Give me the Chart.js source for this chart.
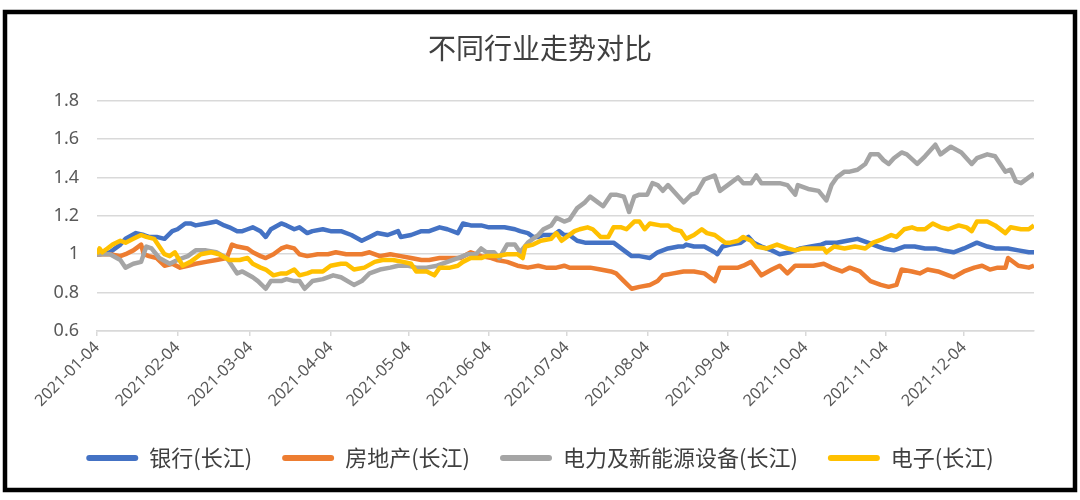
<!DOCTYPE html>
<html lang="zh">
<head>
    <meta charset="UTF-8">
    <title>不同行业走势对比</title>
    <style>
        body {
            margin: 0;
            background-color: #ffffff;
            font-family: 'Noto Sans CJK SC', 'Noto Sans', sans-serif;
        }
        #box {
            width: 1080px;
            height: 500px;
        }
    </style>
    <script src="https://cdn.jsdelivr.net/npm/chart.js"></script>
</head>
<body>
    <div id="box"><canvas id="graph" width="1080" height="500"></canvas></div>
    <script>
        // x = days since 2021-01-04
        const tickDays = [0, 31, 59, 90, 120, 151, 181, 212, 243, 273, 304, 334];
        const tickLabels = ["2021-01-04","2021-02-04","2021-03-04","2021-04-04","2021-05-04","2021-06-04",
                            "2021-07-04","2021-08-04","2021-09-04","2021-10-04","2021-11-04","2021-12-04"];

        const seriesNames = ["银行(长江)", "房地产(长江)", "电力及新能源设备(长江)", "电子(长江)"];

        const bankDays = [0,1,5,9,11,15,18,20,23,26,29,31,34,36,38,42,46,49,51,54,56,58,60,63,65,67,71,73,76,78,
            81,83,87,90,94,98,102,105,108,112,116,117,121,125,128,132,135,139,141,144,148,151,154,157,161,163,166,168,170,172,
            176,178,180,182,185,188,191,195,199,203,206,209,213,216,220,224,226,227,230,234,238,239,241,244,248,251,253,256,260,263,
            267,271,275,279,281,285,289,293,297,301,303,307,311,315,319,323,326,330,334,339,343,346,351,355,359,361];
        const bankValues = [1.00,1.00,1.01,1.05,1.08,1.11,1.10,1.09,1.09,1.08,1.12,1.13,1.16,1.16,1.15,1.16,1.17,1.15,1.14,1.12,
            1.12,1.13,1.14,1.12,1.09,1.13,1.16,1.15,1.13,1.14,1.11,1.12,1.13,1.12,1.12,1.10,1.07,1.09,1.11,1.10,
            1.12,1.09,1.10,1.12,1.12,1.14,1.13,1.11,1.16,1.15,1.15,1.14,1.14,1.14,1.13,1.12,1.11,1.09,1.09,1.10,
            1.10,1.12,1.10,1.10,1.07,1.06,1.06,1.06,1.06,1.02,0.99,0.99,0.98,1.01,1.03,1.04,1.04,1.05,1.04,1.04,
            1.01,1.00,1.04,1.05,1.06,1.09,1.06,1.04,1.02,1.00,1.01,1.03,1.04,1.05,1.06,1.06,1.07,1.08,1.06,1.04,
            1.03,1.02,1.04,1.04,1.03,1.03,1.02,1.01,1.03,1.06,1.04,1.03,1.03,1.02,1.01,1.01];

        const estateDays = [0,1,5,9,11,14,17,18,20,23,26,29,32,35,38,42,46,50,52,54,58,60,63,65,68,71,73,76,78,81,
            85,89,92,96,102,105,109,113,117,121,125,128,132,136,140,144,148,152,154,158,162,166,170,173,177,180,182,186,190,194,
            198,200,203,206,209,213,216,218,222,226,230,234,238,240,243,247,249,252,256,260,263,266,269,272,276,280,283,287,290,294,
            298,302,305,308,310,314,317,320,324,328,330,334,338,341,344,347,350,351,355,359,361];
        const estateValues = [1.00,1.00,1.00,0.99,1.00,1.02,1.05,1.00,0.99,0.98,0.94,0.95,0.93,0.94,0.95,0.96,0.97,0.98,1.05,1.04,
            1.03,1.01,0.99,0.98,1.00,1.03,1.04,1.03,1.00,0.99,1.00,1.00,1.01,1.00,1.00,1.01,0.99,1.00,0.99,0.98,
            0.97,0.97,0.98,0.98,0.98,1.01,0.99,0.98,0.97,0.96,0.94,0.93,0.94,0.93,0.93,0.94,0.93,0.93,0.93,0.92,
            0.91,0.90,0.86,0.82,0.83,0.84,0.86,0.89,0.90,0.91,0.91,0.90,0.86,0.93,0.93,0.93,0.94,0.96,0.89,0.92,
            0.94,0.90,0.94,0.94,0.94,0.95,0.93,0.91,0.93,0.91,0.86,0.84,0.83,0.84,0.92,0.91,0.90,0.92,0.91,0.89,
            0.88,0.91,0.93,0.94,0.92,0.93,0.93,0.98,0.94,0.93,0.94];

        const powerDays = [0,1,5,9,11,14,17,19,21,24,28,31,35,38,42,46,50,54,56,60,62,65,67,71,73,76,78,80,83,87,
            91,94,99,102,105,109,113,116,120,123,127,131,135,139,143,146,148,150,153,155,158,161,163,166,170,172,175,177,180,182,
            185,188,190,193,195,198,200,203,205,207,209,212,214,216,218,220,222,226,229,231,234,238,240,243,247,249,252,254,256,260,
            263,266,269,270,274,278,281,283,285,288,290,293,296,298,301,303,305,307,310,312,316,319,323,325,329,333,337,339,343,346,
            350,352,354,356,359,361];
        const powerValues = [1.00,1.00,1.00,0.97,0.93,0.95,0.96,1.04,1.03,0.98,0.95,0.97,0.99,1.02,1.02,1.01,0.98,0.90,0.91,0.88,
            0.86,0.82,0.86,0.86,0.87,0.86,0.86,0.82,0.86,0.87,0.89,0.88,0.84,0.86,0.90,0.92,0.93,0.94,0.94,0.93,
            0.93,0.94,0.96,0.98,1.00,1.00,1.03,1.01,1.01,0.98,1.05,1.05,1.01,1.06,1.10,1.13,1.15,1.19,1.17,1.18,
            1.24,1.27,1.30,1.27,1.25,1.31,1.31,1.30,1.22,1.30,1.31,1.31,1.37,1.36,1.33,1.36,1.33,1.27,1.31,1.32,
            1.39,1.41,1.33,1.36,1.40,1.37,1.37,1.41,1.37,1.37,1.37,1.36,1.31,1.36,1.34,1.33,1.28,1.36,1.40,1.43,
            1.43,1.44,1.47,1.52,1.52,1.49,1.47,1.50,1.53,1.52,1.47,1.51,1.57,1.52,1.56,1.53,1.47,1.50,1.52,1.51,
            1.43,1.44,1.38,1.37,1.40,1.42];

        const elecDays = [0,1,2,4,6,9,11,14,17,19,22,24,26,28,30,33,36,40,44,47,51,55,58,60,63,65,68,71,73,76,
            78,81,83,87,90,94,96,99,103,107,110,114,118,121,123,127,130,132,136,139,141,144,148,150,154,158,162,164,165,168,
            171,175,177,179,181,184,186,189,191,194,197,199,202,204,207,209,211,213,217,220,222,225,227,230,233,235,238,242,244,247,
            249,252,254,258,262,266,269,272,276,280,281,284,288,292,296,299,303,306,308,311,314,316,319,322,325,328,332,335,337,339,
            343,346,350,352,356,359,361];
        const elecValues = [1.00,1.03,1.01,1.03,1.05,1.07,1.06,1.08,1.10,1.09,1.08,1.04,1.00,0.99,1.01,0.94,0.96,1.00,1.01,1.00,
            0.97,0.97,0.98,0.95,0.93,0.92,0.89,0.90,0.90,0.92,0.89,0.90,0.91,0.91,0.94,0.95,0.95,0.92,0.93,0.96,
            0.97,0.97,0.96,0.95,0.91,0.91,0.89,0.93,0.93,0.94,0.96,0.98,0.98,0.99,0.99,1.00,1.00,0.98,1.04,1.05,
            1.07,1.08,1.11,1.07,1.09,1.12,1.13,1.14,1.13,1.09,1.09,1.14,1.14,1.13,1.17,1.17,1.13,1.16,1.15,1.15,
            1.13,1.12,1.08,1.10,1.13,1.11,1.10,1.06,1.06,1.07,1.09,1.07,1.04,1.03,1.05,1.03,1.02,1.03,1.03,1.03,
            1.01,1.04,1.03,1.04,1.03,1.06,1.08,1.10,1.09,1.13,1.14,1.13,1.13,1.16,1.14,1.13,1.15,1.14,1.12,1.17,
            1.17,1.15,1.11,1.14,1.13,1.13,1.15];

        const colors = ['#4472C4', '#ED7D31', '#A5A5A5', '#FFC000'];

        function toPoints(days, values) {
            return days.map((d, i) => ({ x: d, y: values[i] }));
        }

        const frame = {
            id: 'frame',
            afterDraw(chart) {
                const ctx = chart.ctx;
                ctx.save();
                ctx.strokeStyle = '#000000';
                ctx.lineWidth = 4.5;
                ctx.strokeRect(5, 12, 1070, 478);
                ctx.restore();
            }
        };

        const allData = [
            toPoints(bankDays, bankValues),
            toPoints(estateDays, estateValues),
            toPoints(powerDays, powerValues),
            toPoints(elecDays, elecValues)
        ];

        const ctx = document.getElementById('graph').getContext('2d');
        const graph = new Chart(ctx, {
            type: 'line',
            data: {
                datasets: allData.map((pts, i) => ({
                    label: seriesNames[i],
                    data: pts,
                    borderColor: colors[i],
                    backgroundColor: colors[i],
                    borderWidth: 4.5,
                    borderJoinStyle: 'round',
                    pointRadius: 0,
                    tension: 0,
                    order: 4 - i
                }))
            },
            plugins: [frame],
            options: {
                responsive: false,
                animation: false,
                // left/right padding equal so title and legend centre on the canvas
                layout: { padding: { left: 46, right: 46, top: 0, bottom: 21 } },
                scales: {
                    x: {
                        type: 'linear',
                        min: 0,
                        max: 361,
                        afterBuildTicks: scale => {
                            scale.ticks = tickDays.map(v => ({ value: v }));
                        },
                        afterFit: scale => { scale.height = 86; },
                        ticks: {
                            autoSkip: false,
                            minRotation: 45,
                            maxRotation: 45,
                            padding: 2,
                            color: '#595959',
                            font: { size: 16, family: "'Noto Sans', sans-serif" },
                            callback: (value, index) => tickLabels[index]
                        },
                        grid: {
                            drawOnChartArea: false,
                            drawTicks: true,
                            tickLength: 5,
                            color: '#D9D9D9',
                            lineWidth: 1.5
                        },
                        border: { display: true, color: '#D9D9D9', width: 1.5 }
                    },
                    y: {
                        min: 0.6,
                        max: 1.8,
                        afterFit: scale => { scale.width = 51; },
                        ticks: {
                            stepSize: 0.2,
                            padding: 18,
                            color: '#595959',
                            font: { size: 18, family: "'Noto Sans', sans-serif" },
                            callback: v => String(+v.toFixed(1))
                        },
                        grid: { color: '#D9D9D9', lineWidth: 1.5, drawTicks: false },
                        border: { display: false }
                    }
                },
                plugins: {
                    title: {
                        display: true,
                        text: '不同行业走势对比',
                        color: '#404040',
                        font: { size: 28, weight: 'normal', family: "'Noto Sans CJK SC', sans-serif" },
                        padding: { top: 32, bottom: 35 }
                    },
                    legend: {
                        position: 'bottom',
                        labels: {
                            boxWidth: 52,
                            boxHeight: 6,
                            padding: 30,
                            font: { size: 22, family: "'Noto Sans CJK SC', sans-serif" },
                            generateLabels: chart => chart.data.datasets.map((ds, i) => ({
                                text: ds.label,
                                fillStyle: ds.borderColor,
                                strokeStyle: ds.borderColor,
                                lineWidth: 0,
                                borderRadius: 3,
                                fontColor: '#404040',
                                hidden: false,
                                datasetIndex: i
                            }))
                        }
                    },
                    tooltip: { enabled: false }
                }
            }
        });
    </script>
</body>
</html>
